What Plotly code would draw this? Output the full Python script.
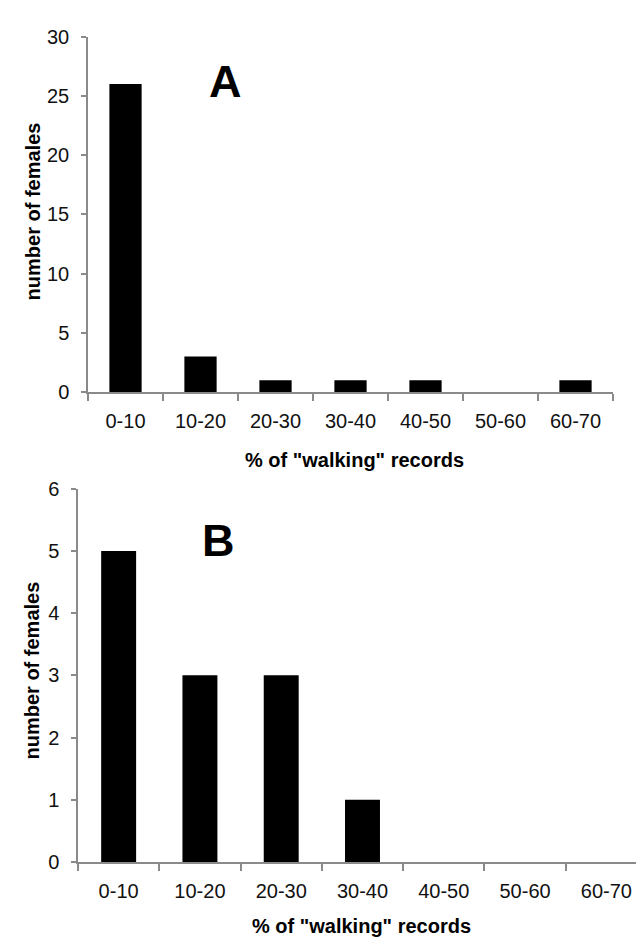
import plotly.graph_objects as go

categories = ["0-10", "10-20", "20-30", "30-40", "40-50", "50-60", "60-70"]
females_a = [26, 3, 1, 1, 1, 0, 1]
females_b = [5, 3, 3, 1, 0, 0, 0]
yticks_a = [0, 5, 10, 15, 20, 25, 30]
yticks_b = [0, 1, 2, 3, 4, 5, 6]

W, H = 644, 946
FONT = "Liberation Sans, Arial, sans-serif"

def px_x(p):
    return p / W

def px_y(p):
    return 1 - p / H

fig = go.Figure()
fig.add_trace(go.Bar(x=categories, y=females_a, width=0.43,
                     marker=dict(color="black", line=dict(width=0)),
                     xaxis="x", yaxis="y", showlegend=False))
fig.add_trace(go.Bar(x=categories, y=females_b, width=0.43,
                     marker=dict(color="black", line=dict(width=0)),
                     xaxis="x2", yaxis="y2", showlegend=False))

axcol = "#8a8a8a"
xcommon = dict(type="category", showline=True, linecolor=axcol, linewidth=1.5,
               ticks="outside", tickson="boundaries", ticklen=7, tickcolor=axcol,
               tickwidth=1.5, showgrid=False, zeroline=False,
               tickfont=dict(family=FONT, size=20, color="#111"),
               ticklabelstandoff=10)
ycommon = dict(showline=True, linecolor=axcol, linewidth=1.5, ticks="outside",
               ticklen=5, tickcolor=axcol, tickwidth=1.5, showgrid=False,
               zeroline=False, tickfont=dict(family=FONT, size=20, color="#111"),
               ticklabelstandoff=8)

fig.update_layout(
    width=W, height=H,
    margin=dict(l=0, r=0, t=0, b=0),
    paper_bgcolor="white", plot_bgcolor="white",
    xaxis=dict(domain=[px_x(80), px_x(605)], anchor="y",
               range=[-0.5, 6.5], **xcommon),
    yaxis=dict(domain=[px_y(382), px_y(18)], anchor="x", range=[0, 30],
               tickvals=yticks_a, **ycommon),
    xaxis2=dict(domain=[px_x(70), px_x(639)], anchor="y2",
                range=[-0.5, 6.5], **xcommon),
    yaxis2=dict(domain=[px_y(863), px_y(481)], anchor="x2", range=[0, 6],
                tickvals=yticks_b, **ycommon),
)

def ann(text, x, y, size, angle=0):
    fig.add_annotation(text=text, x=px_x(x), y=px_y(y), xref="paper", yref="paper",
                       showarrow=False, textangle=angle, xanchor="center",
                       yanchor="middle",
                       font=dict(family=FONT, size=size, color="black", weight="bold"))

ann("<b>A</b>", 217, 64, 45)
ann("<b>B</b>", 210, 534, 45)
ann("<b>% of \"walking\" records</b>", 346, 452, 20)
ann("<b>% of \"walking\" records</b>", 353, 929, 20)
ann("<b>number of females</b>", 25, 197, 20, -90)
ann("<b>number of females</b>", 24, 667, 20, -90)

fig.write_html("out.html")
